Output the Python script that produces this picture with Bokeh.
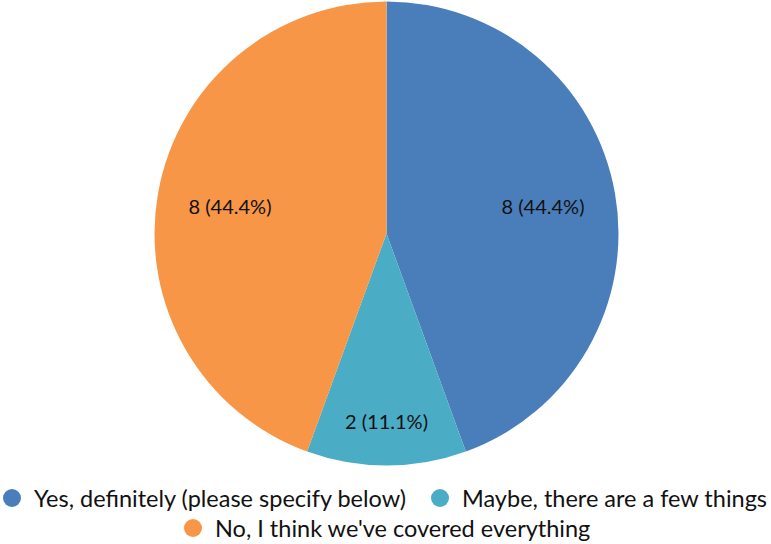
import math
from bokeh.plotting import figure
from bokeh.models import Range1d, ColumnDataSource, Legend, LegendItem
from bokeh.core.properties import value
from bokeh.embed import file_html
from bokeh.resources import INLINE

categories = ["Yes, definitely (please specify below)",
              "Maybe, there are a few things",
              "No, I think we've covered everything"]
counts = [8, 2, 8]
colors = ["#4A7EBB", "#4BACC6", "#F79646"]

W, H = 771, 544
cx, cy, r = 386, 544 - 233, 232
label_factor = [0.685, 0.81, 0.685]

total = sum(counts)
starts, ends, lx, ly, labels = [], [], [], [], []
cum = 0
for i, c in enumerate(counts):
    a0 = math.pi / 2 - cum / total * 2 * math.pi
    cum += c
    a1 = math.pi / 2 - cum / total * 2 * math.pi
    starts.append(a0)
    ends.append(a1)
    mid = (a0 + a1) / 2
    lx.append(cx + r * label_factor[i] * math.cos(mid))
    ly.append(cy + r * label_factor[i] * math.sin(mid))
    labels.append(f"{c} ({c / total * 100:.1f}%)")

p = figure(width=W, height=H, x_range=Range1d(0, W), y_range=Range1d(0, H),
           output_backend="svg", toolbar_location=None, min_border=0)
p.axis.visible = False
p.grid.visible = False
p.outline_line_color = None

src = ColumnDataSource(dict(start=starts, end=ends, color=colors, cat=categories,
                            x=[cx] * 3, y=[cy] * 3))
p.wedge(x="x", y="y", radius=r, start_angle="start", end_angle="end",
        direction="clock", fill_color="color", line_color=None, source=src)

p.text(x=lx, y=ly, text=labels, text_align="center", text_baseline="middle",
       text_font=value("Lato"), text_font_size="20px", text_color="#111111")

dots = []
for cat, col in zip(categories, colors):
    rr = p.scatter(x=[-1000], y=[-1000], marker="circle", size=14,
                   fill_color=col, line_color=None)
    dots.append(LegendItem(label=cat, renderers=[rr]))

def mk_legend(items, loc):
    lg = Legend(items=items, location=loc, orientation="horizontal",
                label_text_font="Lato", label_text_font_size="23.5px",
                label_text_color="#111111", border_line_color=None,
                background_fill_alpha=0, padding=0, margin=0, spacing=11,
                glyph_width=45, glyph_height=45, label_standoff=-2, label_height=24)
    return lg

p.add_layout(mk_legend(dots[:2], (-11, 24)))
p.add_layout(mk_legend(dots[2:], (170, -6)))

open("out.html", "w").write(file_html(p, INLINE))
